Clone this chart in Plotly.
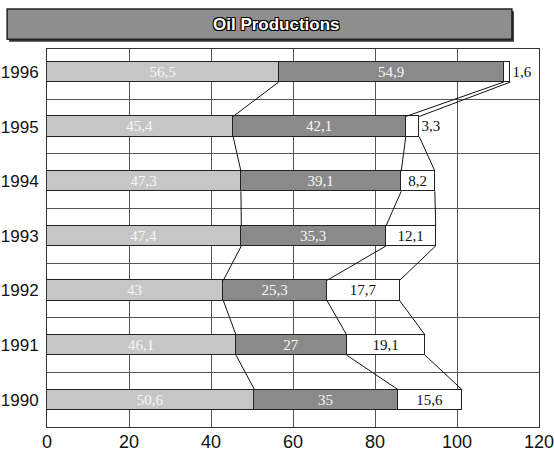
import plotly.graph_objects as go

# Oil production by year, three stacked components
years = ["1990", "1991", "1992", "1993", "1994", "1995", "1996"]
part_a = [50.6, 46.1, 43, 47.4, 47.3, 45.4, 56.5]
part_b = [35, 27, 25.3, 35.3, 39.1, 42.1, 54.9]
part_c = [15.6, 19.1, 17.7, 12.1, 8.2, 3.3, 1.6]
x_ticks = [0, 20, 40, 60, 80, 100, 120]

BAR_W = 0.37
idx = list(range(len(years)))


def fmt(v):
    s = f"{v:g}"
    return s.replace(".", ",")


label_font = dict(family="Liberation Serif, DejaVu Serif, serif", size=15)
sans = "Liberation Sans, Arial, sans-serif"

fig = go.Figure()

fig.add_trace(go.Bar(
    y=idx, x=part_a, orientation="h", width=BAR_W,
    marker=dict(color="#c6c6c6", line=dict(color="#222", width=1)),
    text=[fmt(v) for v in part_a], textposition="inside", textangle=0,
    insidetextanchor="middle", constraintext="none",
    textfont=dict(label_font, color="#f6f6f6"), hoverinfo="x",
))
fig.add_trace(go.Bar(
    y=idx, x=part_b, orientation="h", width=BAR_W,
    marker=dict(color="#8a8a8a", line=dict(color="#222", width=1)),
    text=[fmt(v) for v in part_b], textposition="inside", textangle=0,
    insidetextanchor="middle", constraintext="none",
    textfont=dict(label_font, color="#f6f6f6"), hoverinfo="x",
))
# small segments get their label placed just outside the bar end
c_pos = ["inside" if v >= 5 else "outside" for v in part_c]
fig.add_trace(go.Bar(
    y=idx, x=part_c, orientation="h", width=BAR_W,
    marker=dict(color="#ffffff", line=dict(color="#222", width=1)),
    text=[fmt(v) for v in part_c], textposition=c_pos, textangle=0,
    insidetextanchor="middle", constraintext="none",
    textfont=dict(label_font, color="#111"), hoverinfo="x",
))

# series lines joining the segment boundaries of neighbouring bars
cum1 = part_a
cum2 = [a + b for a, b in zip(part_a, part_b)]
cum3 = [a + b + c for a, b, c in zip(part_a, part_b, part_c)]
lx, ly = [], []
for cum in (cum1, cum2, cum3):
    for i in range(len(years) - 1):
        lx += [cum[i], cum[i + 1], None]
        ly += [i + BAR_W / 2, i + 1 - BAR_W / 2, None]
fig.add_trace(go.Scatter(
    x=lx, y=ly, mode="lines", line=dict(color="#111", width=1),
    hoverinfo="skip", showlegend=False,
))

# title banner
fig.add_shape(type="rect", xref="paper", yref="paper",
              x0=-0.077, x1=0.949, y0=1.019, y1=1.100,
              fillcolor="#333", line=dict(width=0), layer="above")
fig.add_shape(type="rect", xref="paper", yref="paper",
              x0=-0.081, x1=0.945, y0=1.026, y1=1.106,
              fillcolor="#8e8e8e", line=dict(color="#222", width=1.5),
              layer="above")
fig.add_annotation(
    text="Oil Productions", xref="paper", yref="paper",
    x=0.467, y=1.066, showarrow=False, xanchor="center", yanchor="middle",
    font=dict(family=sans, size=17, color="white", weight="bold",
              shadow="-1px -1px 0 #000, 1px -1px 0 #000, -1px 1px 0 #000, 1px 1px 0 #000"),
)

fig.update_layout(
    width=554, height=452,
    margin=dict(l=47, r=15, t=49, b=25),
    barmode="stack", bargap=0, showlegend=False,
    plot_bgcolor="white", paper_bgcolor="white",
    xaxis=dict(
        range=[0, 120], tickvals=x_ticks, ticktext=[str(v) for v in x_ticks],
        showgrid=True, gridcolor="#555", gridwidth=1, zeroline=False,
        showline=True, linecolor="#333", linewidth=1, mirror=True,
        ticks="", ticklabelstandoff=-2, ticklabeloverflow="allow",
        tickfont=dict(family=sans, size=18, color="#111"),
        automargin=False,
    ),
    yaxis=dict(
        range=[-0.5, 6.42], tickvals=idx, ticktext=years,
        showgrid=False, zeroline=False,
        minor=dict(tick0=0.5, dtick=1, showgrid=True, gridcolor="#555", gridwidth=1),
        showline=True, linecolor="#333", linewidth=1, mirror=True,
        ticks="", ticklabelstandoff=4, ticklabeloverflow="allow",
        tickfont=dict(family=sans, size=17, color="#111"),
        automargin=False,
    ),
)

fig.write_html("out.html")
